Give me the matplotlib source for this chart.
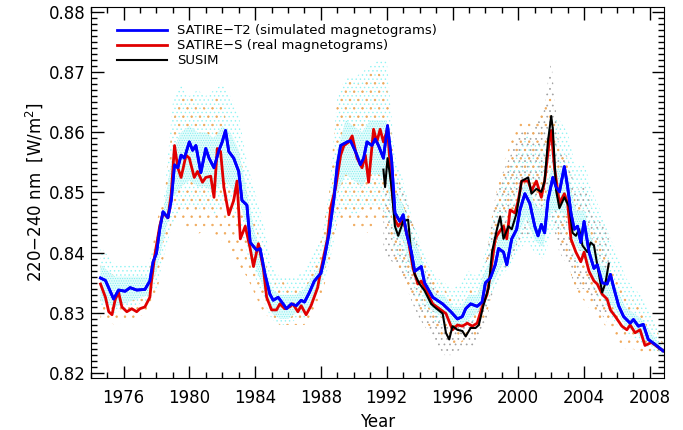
import matplotlib
matplotlib.use("Agg")
import matplotlib.pyplot as plt
from matplotlib.ticker import MultipleLocator

# SATIRE-T2 (simulated magnetograms), smoothed
t2_year = [1974.6, 1974.9, 1975.4, 1975.7, 1976.1, 1976.4, 1976.8, 1977.3, 1977.6, 1977.8,
           1978.0, 1978.2, 1978.4, 1978.7, 1978.9, 1979.1, 1979.3, 1979.5, 1979.7, 1980.0,
           1980.2, 1980.4, 1980.7, 1981.0, 1981.2, 1981.5, 1981.8, 1982.0, 1982.2, 1982.4,
           1982.7, 1983.0, 1983.2, 1983.5, 1983.7, 1984.1, 1984.3, 1984.6, 1984.9, 1985.1,
           1985.4, 1985.7, 1985.9, 1986.2, 1986.5, 1986.8, 1987.0, 1987.3, 1987.6, 1988.0,
           1988.2, 1988.5, 1988.8, 1989.0, 1989.2, 1989.6, 1989.8, 1990.1, 1990.4, 1990.6,
           1990.8, 1991.1, 1991.3, 1991.5, 1991.8, 1992.05, 1992.3, 1992.5, 1992.8, 1993.0,
           1993.2, 1993.5, 1993.7, 1994.1, 1994.3, 1994.8, 1995.4, 1995.9, 1996.3, 1996.6,
           1996.8, 1997.1, 1997.5, 1997.8, 1998.0, 1998.3, 1998.6, 1998.8, 1999.1, 1999.3,
           1999.6, 1999.9, 2000.1, 2000.4, 2000.7, 2001.0, 2001.2, 2001.4, 2001.6, 2001.8,
           2002.1, 2002.3, 2002.5, 2002.8, 2003.0, 2003.2, 2003.4, 2003.6, 2003.8, 2004.0,
           2004.3, 2004.6, 2004.8, 2005.1, 2005.4, 2005.6, 2005.8, 2006.1, 2006.4, 2006.8,
           2007.0, 2007.3, 2007.6, 2007.9, 2008.3, 2008.8]
t2_val = [0.8358, 0.8354, 0.8323, 0.8338, 0.8336, 0.8342, 0.8338, 0.8339, 0.8353, 0.8385,
          0.8399, 0.8439, 0.8468, 0.8458, 0.8487, 0.8546, 0.8541, 0.8562, 0.8557, 0.8584,
          0.8570, 0.8578, 0.8533, 0.8573, 0.8557, 0.8541, 0.8570, 0.8584, 0.8603, 0.8568,
          0.8557, 0.8535, 0.8487, 0.8479, 0.8417, 0.8404, 0.8407, 0.8364, 0.8331, 0.8321,
          0.8326, 0.8315, 0.8307, 0.8315, 0.8312, 0.8321, 0.8318, 0.8334, 0.8353, 0.8366,
          0.8390, 0.8433, 0.8492, 0.8546, 0.8578, 0.8584, 0.8586, 0.8568, 0.8546, 0.8557,
          0.8584, 0.8578, 0.8589, 0.8578, 0.8557, 0.8611, 0.8552, 0.8466, 0.8452, 0.8463,
          0.8433, 0.8401, 0.8369, 0.8377, 0.8350, 0.8326, 0.8315, 0.8302, 0.8290, 0.8294,
          0.8307, 0.8315, 0.8311, 0.8318, 0.8350, 0.8358, 0.8380, 0.8407, 0.8401, 0.8380,
          0.8423, 0.8439, 0.8471, 0.8498, 0.8482, 0.8444, 0.8428, 0.8447, 0.8433, 0.8487,
          0.8525, 0.8509, 0.8501, 0.8543, 0.8509, 0.8466, 0.8439, 0.8444, 0.8417, 0.8452,
          0.8401, 0.8374, 0.8380, 0.8350, 0.8348, 0.8364, 0.8342, 0.8312, 0.8294, 0.8283,
          0.8289, 0.8278, 0.8281, 0.8256, 0.8248, 0.8237]

# SATIRE-S (real magnetograms), smoothed
s_year = [1974.6, 1974.9, 1975.1, 1975.3, 1975.5, 1975.7, 1975.9, 1976.2, 1976.5, 1976.8,
          1977.0, 1977.3, 1977.6, 1977.7, 1977.9, 1978.2, 1978.4, 1978.7, 1978.9, 1979.1,
          1979.3, 1979.5, 1979.8, 1980.0, 1980.3, 1980.5, 1980.8, 1981.0, 1981.3, 1981.5,
          1981.7, 1981.9, 1982.1, 1982.4, 1982.7, 1982.9, 1983.1, 1983.4, 1983.7, 1983.9,
          1984.2, 1984.5, 1984.7, 1985.0, 1985.3, 1985.5, 1985.8, 1986.1, 1986.3, 1986.6,
          1986.8, 1987.1, 1987.4, 1987.8, 1988.0, 1988.4, 1988.6, 1988.9, 1989.2, 1989.4,
          1989.7, 1989.9, 1990.2, 1990.5, 1990.7, 1990.9, 1991.2, 1991.4, 1991.6, 1991.8,
          1992.05, 1992.3, 1992.5, 1992.7, 1993.0, 1993.3, 1993.6, 1993.9, 1994.1, 1994.4,
          1994.8, 1995.2, 1995.6, 1996.0, 1996.3, 1996.6, 1996.9, 1997.2, 1997.5, 1997.8,
          1998.1, 1998.3, 1998.6, 1998.8, 1999.1, 1999.3, 1999.5, 1999.8, 2000.0, 2000.2,
          2000.6, 2000.8, 2001.1, 2001.4, 2001.6, 2001.9, 2002.0, 2002.2, 2002.5, 2002.8,
          2003.0, 2003.2, 2003.5, 2003.8, 2004.0, 2004.3, 2004.6, 2004.8, 2005.1, 2005.4,
          2005.6, 2005.9, 2006.3, 2006.6, 2006.8, 2007.1, 2007.4, 2007.7, 2008.1, 2008.5,
          2008.8]
s_val = [0.8348, 0.8326, 0.8302, 0.8297, 0.8323, 0.8334, 0.8310, 0.8302, 0.8307, 0.8302,
         0.8307, 0.8310, 0.8326, 0.8353, 0.8396, 0.8444, 0.8466, 0.8458, 0.8498, 0.8578,
         0.8541, 0.8525, 0.8562, 0.8557, 0.8525, 0.8535, 0.8517, 0.8525, 0.8527, 0.8492,
         0.8573, 0.8568, 0.8509, 0.8463, 0.8487, 0.8519, 0.8423, 0.8444, 0.8407, 0.8377,
         0.8415, 0.8374, 0.8326, 0.8305, 0.8305, 0.8315, 0.8307, 0.8310, 0.8315, 0.8302,
         0.8312, 0.8297, 0.8312, 0.8342, 0.8372, 0.8423, 0.8476, 0.8509, 0.8562, 0.8578,
         0.8584, 0.8594, 0.8557, 0.8541, 0.8562, 0.8517, 0.8605, 0.8584, 0.8605, 0.8584,
         0.8605, 0.8509, 0.8455, 0.8444, 0.8455, 0.8423, 0.8374, 0.8348, 0.8353, 0.8337,
         0.8315, 0.8307, 0.8299, 0.8272, 0.8280, 0.8278, 0.8283, 0.8278, 0.8283, 0.8310,
         0.8331, 0.8364, 0.8423, 0.8433, 0.8444, 0.8423, 0.8471, 0.8466, 0.8487, 0.8519,
         0.8519, 0.8503, 0.8519, 0.8492, 0.8519, 0.8589, 0.8603, 0.8541, 0.8482, 0.8498,
         0.8482, 0.8423, 0.8401, 0.8385, 0.8401, 0.8369, 0.8353, 0.8348, 0.8331, 0.8323,
         0.8305, 0.8294, 0.8278, 0.8272, 0.8280, 0.8267, 0.8272, 0.8246, 0.8251, 0.8243,
         0.8237]

# SUSIM, smoothed
su_year = [1991.8, 1991.9, 1992.05, 1992.3, 1992.5, 1992.7, 1993.0, 1993.3, 1993.5, 1993.7,
           1994.0, 1994.3, 1994.7, 1994.9, 1995.4, 1995.6, 1995.8, 1996.0, 1996.3, 1996.6,
           1996.8, 1997.1, 1997.4, 1997.6, 1997.9, 1998.2, 1998.4, 1998.7, 1998.9, 1999.1,
           1999.4, 1999.6, 1999.9, 2000.2, 2000.6, 2000.8, 2001.1, 2001.4, 2001.6, 2001.8,
           2002.0, 2002.1, 2002.3, 2002.5, 2002.8, 2003.1, 2003.3, 2003.5, 2003.7, 2003.9,
           2004.2, 2004.4, 2004.6, 2004.9, 2005.1, 2005.3, 2005.5]
su_val = [0.8538, 0.8509, 0.8557, 0.8509, 0.8444, 0.8428, 0.8452, 0.8455, 0.8396, 0.8364,
          0.8348, 0.8337, 0.8315, 0.8310, 0.8299, 0.8267, 0.8256, 0.8278, 0.8272, 0.8270,
          0.8261, 0.8275, 0.8275, 0.8280, 0.8315, 0.8342, 0.8401, 0.8439, 0.8460, 0.8423,
          0.8444, 0.8439, 0.8466, 0.8519, 0.8525, 0.8498, 0.8506, 0.8501, 0.8519, 0.8584,
          0.8627, 0.8605, 0.8503, 0.8474, 0.8492, 0.8476, 0.8433, 0.8428, 0.8439, 0.8412,
          0.8401, 0.8417, 0.8412, 0.8364, 0.8334, 0.8350, 0.8382]

# spread of the daily values: outer envelope (sparse dots) and dense core
cy_year = [1974.6, 1975.5, 1976.5, 1977.5, 1978.0, 1978.5, 1979.0, 1979.5, 1980.0, 1980.5,
           1981.0, 1981.5, 1982.0, 1982.5, 1983.0, 1983.5, 1984.0, 1984.5, 1985.0, 1985.5,
           1986.0, 1986.5, 1987.0, 1987.5, 1988.0, 1988.5, 1989.0, 1989.5, 1990.0, 1990.5,
           1991.0, 1991.5, 1992.0, 1992.5, 1993.0, 1993.5, 1994.0, 1994.5, 1995.0, 1995.5,
           1996.0, 1996.5, 1997.0, 1997.5, 1998.0, 1998.5, 1999.0, 1999.5, 2000.0, 2000.5,
           2001.0, 2001.5, 2002.0, 2002.5, 2003.0, 2003.5, 2004.0, 2004.5, 2005.0, 2005.5,
           2006.0, 2006.5, 2007.0, 2007.5, 2008.0, 2008.8]
cy_hi = [0.841, 0.838, 0.838, 0.838, 0.843, 0.850, 0.865, 0.868, 0.866, 0.867,
         0.866, 0.867, 0.868, 0.866, 0.863, 0.855, 0.850, 0.845, 0.838, 0.836,
         0.836, 0.836, 0.837, 0.840, 0.842, 0.850, 0.866, 0.869, 0.869, 0.870,
         0.871, 0.872, 0.872, 0.856, 0.852, 0.846, 0.842, 0.838, 0.836, 0.835,
         0.834, 0.835, 0.837, 0.836, 0.840, 0.846, 0.852, 0.854, 0.857, 0.860,
         0.858, 0.858, 0.862, 0.862, 0.860, 0.854, 0.855, 0.850, 0.847, 0.843,
         0.840, 0.836, 0.834, 0.833, 0.830, 0.825]
cy_lo = [0.831, 0.830, 0.831, 0.832, 0.834, 0.840, 0.845, 0.847, 0.848, 0.847,
         0.848, 0.846, 0.848, 0.848, 0.845, 0.840, 0.836, 0.832, 0.829, 0.828,
         0.828, 0.829, 0.829, 0.831, 0.834, 0.838, 0.845, 0.848, 0.846, 0.847,
         0.848, 0.848, 0.846, 0.840, 0.838, 0.834, 0.831, 0.830, 0.828, 0.828,
         0.827, 0.827, 0.828, 0.829, 0.831, 0.834, 0.836, 0.838, 0.840, 0.842,
         0.840, 0.839, 0.843, 0.844, 0.842, 0.838, 0.838, 0.834, 0.832, 0.830,
         0.828, 0.826, 0.826, 0.825, 0.824, 0.823]
core_hi = [0.838, 0.836, 0.836, 0.836, 0.841, 0.848, 0.857, 0.860, 0.861, 0.860,
           0.860, 0.859, 0.861, 0.860, 0.857, 0.850, 0.843, 0.839, 0.834, 0.833,
           0.833, 0.833, 0.834, 0.836, 0.838, 0.846, 0.857, 0.862, 0.861, 0.860,
           0.862, 0.862, 0.862, 0.850, 0.848, 0.843, 0.840, 0.835, 0.833, 0.833,
           0.831, 0.831, 0.833, 0.833, 0.837, 0.840, 0.844, 0.845, 0.849, 0.852,
           0.848, 0.847, 0.854, 0.854, 0.853, 0.847, 0.847, 0.842, 0.838, 0.837,
           0.834, 0.831, 0.830, 0.829, 0.827, 0.824]
core_lo = [0.832, 0.831, 0.832, 0.833, 0.837, 0.843, 0.849, 0.851, 0.852, 0.851,
           0.851, 0.850, 0.852, 0.851, 0.849, 0.844, 0.838, 0.834, 0.830, 0.829,
           0.829, 0.830, 0.830, 0.832, 0.835, 0.840, 0.850, 0.853, 0.852, 0.851,
           0.853, 0.853, 0.852, 0.843, 0.842, 0.837, 0.835, 0.831, 0.830, 0.829,
           0.828, 0.828, 0.829, 0.830, 0.833, 0.835, 0.838, 0.839, 0.843, 0.846,
           0.842, 0.841, 0.847, 0.847, 0.846, 0.841, 0.840, 0.836, 0.833, 0.832,
           0.830, 0.828, 0.827, 0.826, 0.825, 0.823]
or_hi = [0.838, 0.836, 0.834, 0.836, 0.845, 0.850, 0.862, 0.866, 0.866, 0.865,
         0.864, 0.866, 0.865, 0.858, 0.858, 0.850, 0.845, 0.840, 0.834, 0.836,
         0.834, 0.834, 0.835, 0.838, 0.842, 0.850, 0.866, 0.869, 0.868, 0.868,
         0.870, 0.870, 0.868, 0.854, 0.850, 0.846, 0.840, 0.838, 0.836, 0.834,
         0.832, 0.832, 0.834, 0.834, 0.838, 0.848, 0.854, 0.858, 0.862, 0.862,
         0.862, 0.864, 0.866, 0.857, 0.855, 0.848, 0.848, 0.845, 0.842, 0.838,
         0.836, 0.833, 0.832, 0.831, 0.829, 0.825]
or_lo = [0.829, 0.828, 0.829, 0.830, 0.833, 0.840, 0.846, 0.845, 0.844, 0.843,
         0.844, 0.843, 0.842, 0.840, 0.838, 0.836, 0.833, 0.830, 0.829, 0.828,
         0.828, 0.828, 0.828, 0.830, 0.832, 0.838, 0.845, 0.846, 0.844, 0.844,
         0.843, 0.845, 0.845, 0.838, 0.836, 0.832, 0.829, 0.828, 0.827, 0.826,
         0.825, 0.825, 0.826, 0.826, 0.829, 0.834, 0.837, 0.840, 0.843, 0.845,
         0.845, 0.845, 0.848, 0.842, 0.838, 0.834, 0.832, 0.830, 0.829, 0.827,
         0.825, 0.824, 0.824, 0.823, 0.823, 0.823]
gr_year = [1991.8, 1992.5, 1993.0, 1993.5, 1994.0, 1994.5, 1995.0, 1995.5, 1996.0, 1996.5,
           1997.0, 1997.5, 1998.0, 1998.5, 1999.0, 1999.5, 2000.0, 2000.5, 2001.0, 2001.5,
           2002.0, 2002.5, 2003.0, 2003.5, 2004.0, 2004.5, 2005.0, 2005.5]
gr_hi = [0.856, 0.852, 0.851, 0.846, 0.840, 0.837, 0.834, 0.832, 0.830, 0.830,
         0.831, 0.832, 0.838, 0.848, 0.853, 0.856, 0.860, 0.860, 0.861, 0.863,
         0.872, 0.857, 0.856, 0.850, 0.852, 0.847, 0.845, 0.843]
gr_lo = [0.840, 0.838, 0.836, 0.832, 0.829, 0.827, 0.825, 0.823, 0.823, 0.824,
         0.824, 0.825, 0.828, 0.834, 0.837, 0.838, 0.842, 0.843, 0.842, 0.843,
         0.846, 0.840, 0.838, 0.834, 0.834, 0.832, 0.830, 0.828]

plt.rcParams['hatch.linewidth'] = 0.5

fig = plt.figure(figsize=(6.83, 4.30), dpi=100)
ax = fig.add_axes([0.1327, 0.121, 0.8393, 0.8627])

# daily values shown as dotted clouds
ax.fill_between(cy_year, cy_lo, cy_hi, facecolor='none', edgecolor='#90f4f4',
                hatch='....', linewidth=0)
ax.fill_between(gr_year, gr_lo, gr_hi, facecolor='none', edgecolor='#a0a0a0',
                hatch='...', linewidth=0)
ax.fill_between(cy_year, or_lo, or_hi, facecolor='none', edgecolor='#f0a858',
                hatch='..', linewidth=0)
ax.fill_between(cy_year, core_lo, core_hi, facecolor='#e4fcfc', edgecolor='#80eeee',
                hatch='.......', linewidth=0)

ax.plot(t2_year, t2_val, color='#0000ff', lw=2.0, label='SATIRE\u2212T2 (simulated magnetograms)')
ax.plot(s_year, s_val, color='#e00000', lw=2.0, label='SATIRE\u2212S (real magnetograms)')
ax.plot(su_year, su_val, color='black', lw=1.5, label='SUSIM')
# blue drawn on top of red
ax.plot(t2_year, t2_val, color='#0000ff', lw=2.0)

ax.set_xlim(1974.0, 2008.85)
ax.set_ylim(0.8192, 0.8808)
ax.set_xticks([1976, 1980, 1984, 1988, 1992, 1996, 2000, 2004, 2008])
ax.xaxis.set_minor_locator(MultipleLocator(1))
ax.set_yticks([0.82, 0.83, 0.84, 0.85, 0.86, 0.87, 0.88])
ax.yaxis.set_minor_locator(MultipleLocator(0.001))
ax.tick_params(which='both', direction='in', top=True, right=True, labelsize=12, width=1)
ax.tick_params(which='major', length=9)
ax.tick_params(which='minor', length=4.5)
ax.tick_params(axis='x', pad=8)
ax.set_xlabel('Year', fontsize=12)
ax.set_ylabel('220\u2212240 nm  [W/m$^2$]', fontsize=12, labelpad=3)

ax.legend(loc='upper left', frameon=False, fontsize=9.5, handlelength=3.8,
          handletextpad=0.75, labelspacing=0.15, borderaxespad=0.5,
          bbox_to_anchor=(0.025, 0.985))

fig.savefig('out.png', dpi=100)
